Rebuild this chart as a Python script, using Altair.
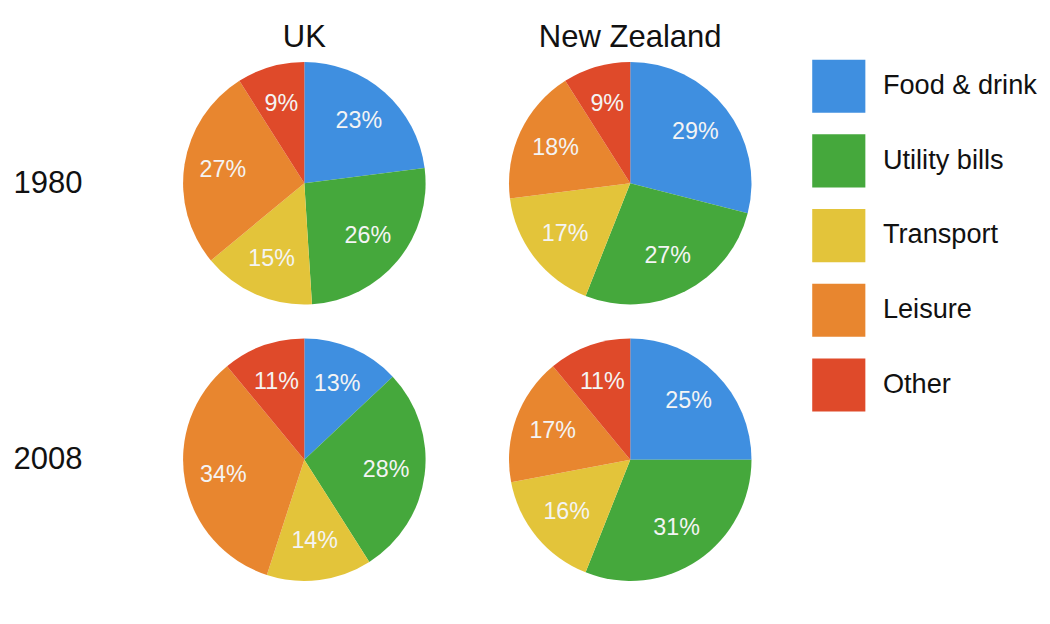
import altair as alt
import pandas as pd

categories = ["Food & drink", "Utility bills", "Transport", "Leisure", "Other"]
colors = ["#3f8fe0", "#45a83c", "#e3c43a", "#e8862f", "#df4a2a"]
countries = ["UK", "New Zealand"]
years = ["1980", "2008"]
uk_1980 = [23, 26, 15, 27, 9]
uk_2008 = [13, 28, 14, 34, 11]
nz_1980 = [29, 27, 17, 18, 9]
nz_2008 = [25, 31, 16, 17, 11]

rows = []
for country, year, vals in [
    ("UK", "1980", uk_1980), ("New Zealand", "1980", nz_1980),
    ("UK", "2008", uk_2008), ("New Zealand", "2008", nz_2008),
]:
    for i, (c, v) in enumerate(zip(categories, vals)):
        rows.append({"country": country, "year": year, "cat": c, "order": i,
                     "value": v, "label": f"{v}%"})
df = pd.DataFrame(rows)

base = alt.Chart().encode(
    alt.Theta("value:Q").stack(True),
    alt.Order("order:Q"),
)
arcs = base.mark_arc(outerRadius=125).encode(
    alt.Color("cat:N").scale(domain=categories, range=colors).legend(
        title=None, symbolType="square", symbolSize=3000, symbolStrokeWidth=0,
        symbolOpacity=1, labelFontSize=28, labelFont="Liberation Sans",
        rowPadding=22, labelOffset=18, labelColor="#111", offset=60,
    )
)
text = base.mark_text(radius=85, fontSize=24, font="Liberation Sans",
                      color="#f4f4f4").encode(alt.Text("label:N"))

chart = alt.layer(arcs, text, data=df).properties(width=255, height=255).facet(
    column=alt.Column("country:N", sort=countries).header(
        title=None, labelFontSize=32, labelFont="Liberation Sans", labelColor="#111",
        labelPadding=6),
    row=alt.Row("year:N", sort=years).header(
        title=None, labelFontSize=32, labelFont="Liberation Sans", labelColor="#111",
        labelAngle=0, labelOrient="left", labelPadding=30),
    spacing={"column": 81, "row": 30},
).configure_view(stroke=None)

chart.save("out.html", embed_options={"renderer": "svg", "actions": False})
